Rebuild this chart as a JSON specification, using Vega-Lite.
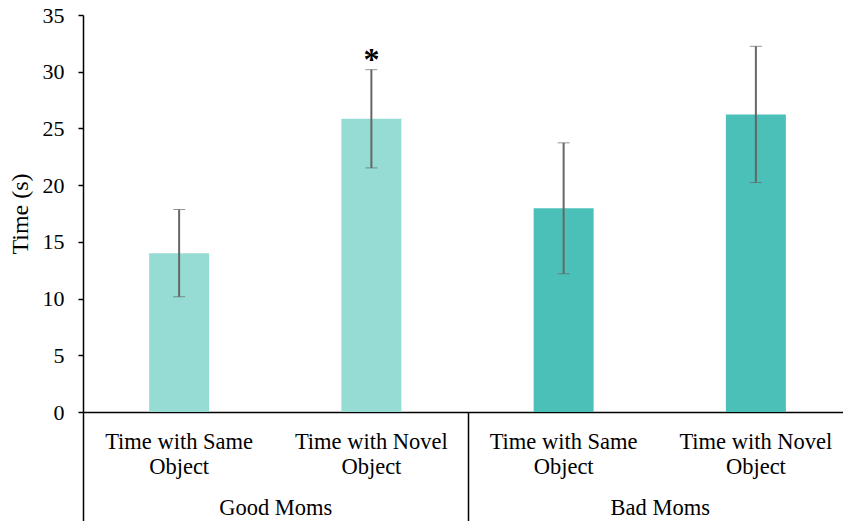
{
  "$schema": "https://vega.github.io/schema/vega-lite/v6.json",
  "width": 760,
  "height": 397,
  "autosize": {"type": "none"},
  "padding": {"left": 83, "top": 15, "right": 0, "bottom": 109},
  "background": "white",
  "config": {
    "view": {"stroke": null},
    "font": "Liberation Serif",
    "axis": {"labelColor": "black", "titleColor": "black", "labelFont": "Liberation Serif", "titleFont": "Liberation Serif"}
  },
  "data": {
    "values": [
      {"group": "Good Moms", "key": "G1", "cond": "Time with Same Object", "mean": 14.0, "lo": 10.16, "hi": 17.85, "star": ""},
      {"group": "Good Moms", "key": "G2", "cond": "Time with Novel Object", "mean": 25.85, "lo": 21.52, "hi": 30.18, "star": "*"},
      {"group": "Bad Moms", "key": "B1", "cond": "Time with Same Object", "mean": 17.97, "lo": 12.19, "hi": 23.73, "star": ""},
      {"group": "Bad Moms", "key": "B2", "cond": "Time with Novel Object", "mean": 26.22, "lo": 20.23, "hi": 32.24, "star": ""}
    ]
  },
  "resolve": {"scale": {"x": "independent"}, "axis": {"x": "independent"}},
  "layer": [
    {
      "layer": [
        {
          "mark": {"type": "bar", "width": 60},
          "encoding": {
            "x": {
              "field": "key", "type": "nominal", "sort": ["G1", "G2", "B1", "B2"],
              "scale": {"range": [0, 769], "paddingInner": 0.688, "paddingOuter": 0.344},
              "axis": {
                "title": null, "orient": "bottom", "domainColor": "black", "domainWidth": 1.5,
                "ticks": false, "tickSize": 0, "labelAngle": 0, "labelFontSize": 22.5, "labelPadding": 18,
                "labelBaseline": "top", "labelLineHeight": 25, "labelLimit": 0,
                "labelExpr": "(datum.value == 'G1' || datum.value == 'B1') ? ['Time with Same', 'Object'] : ['Time with Novel', 'Object']"
              }
            },
            "y": {
              "field": "mean", "type": "quantitative",
              "scale": {"domain": [0, 35], "nice": false},
              "axis": {
                "title": "Time (s)", "titleFontSize": 24, "titleFontWeight": "normal", "titlePadding": 10,
                "values": [0, 5, 10, 15, 20, 25, 30, 35], "grid": false,
                "domainColor": "black", "domainWidth": 1.5, "tickColor": "black", "tickWidth": 1.5, "tickSize": 5,
                "labelFontSize": 22, "labelPadding": 14
              }
            },
            "color": {
              "field": "group", "type": "nominal",
              "scale": {"domain": ["Good Moms", "Bad Moms"], "range": ["#96DCD5", "#4BC0B8"]},
              "legend": null
            }
          }
        },
        {
          "mark": {
            "type": "errorbar",
            "ticks": {"size": 12, "color": "#666666", "strokeWidth": 2},
            "rule": {"color": "#666666", "strokeWidth": 2}
          },
          "encoding": {
            "x": {"field": "key", "type": "nominal", "sort": ["G1", "G2", "B1", "B2"]},
            "y": {"field": "lo", "type": "quantitative", "title": "Time (s)"},
            "y2": {"field": "hi"}
          }
        },
        {
          "mark": {"type": "text", "fontSize": 32, "fontWeight": "bold", "baseline": "alphabetic", "dy": 0, "color": "black", "font": "Liberation Serif"},
          "encoding": {
            "x": {"field": "key", "type": "nominal", "sort": ["G1", "G2", "B1", "B2"]},
            "y": {"field": "hi", "type": "quantitative", "title": "Time (s)"},
            "text": {"field": "star"}
          }
        }
      ]
    },
    {
      "mark": {"type": "rule", "opacity": 0},
      "encoding": {
        "x": {
          "field": "group", "type": "nominal", "sort": ["Good Moms", "Bad Moms"],
          "scale": {"range": [0, 769], "paddingInner": 0, "paddingOuter": 0},
          "axis": {
            "title": null, "orient": "bottom", "domain": false, "tickBand": "extent",
            "ticks": true, "tickSize": 109, "tickColor": "black", "tickWidth": 1.5,
            "labelAngle": 0, "labelFontSize": 22.5, "labelPadding": -25, "labelBaseline": "top"
          }
        }
      }
    }
  ]
}
